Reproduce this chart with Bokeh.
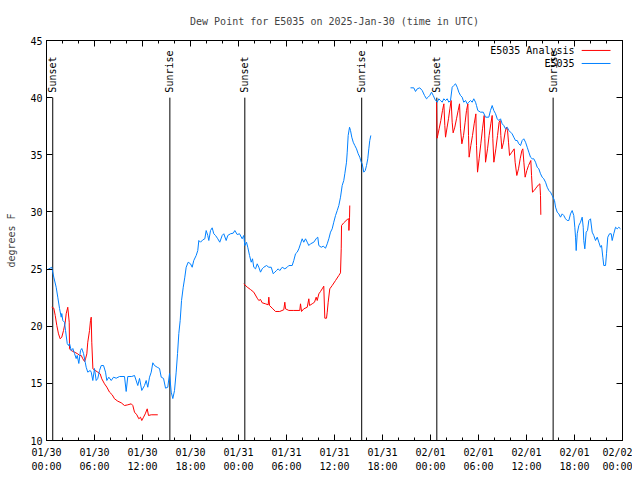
import math
from bokeh.plotting import figure
from bokeh.models import Range1d, FixedTicker, LinearAxis, Label, Arrow
from bokeh.core.properties import value
from bokeh.embed import file_html
from bokeh.resources import INLINE

NaN = float("nan")

# time axis: hours since 2025-01-30 00:00 UTC
tick_hours = [0, 6, 12, 18, 24, 30, 36, 42, 48, 54, 60, 66, 72]
tick_labels = ["01/30\n00:00", "01/30\n06:00", "01/30\n12:00", "01/30\n18:00",
               "01/31\n00:00", "01/31\n06:00", "01/31\n12:00", "01/31\n18:00",
               "02/01\n00:00", "02/01\n06:00", "02/01\n12:00", "02/01\n18:00",
               "02/02\n00:00"]
minor_hours = list(range(0, 73, 2))
y_ticks = [10, 15, 20, 25, 30, 35, 40, 45]

# E5035 observed dew point
obs_hours = [
    0.16, 0.66, 0.91, 1.21, 1.41, 1.63, 1.84, 1.91, 2.04, 2.25, 2.38, 2.59, 2.75, 2.88,
    3.09, 3.29, 3.50, 3.71, 3.84, 4.04, 4.25, 4.41, 4.63, 4.84, 4.96, 5.16, 5.46, 5.59,
    5.79, 6.00, 6.21, 6.41, 6.63, 6.84, 7.13, 7.38, 7.54, 7.79, 8.09, 8.38, 8.71, 9.13,
    9.75, 9.96, 10.16, 10.66, 11.00, 11.41, 11.63, 11.91, 12.25, 12.46, 12.66, 12.88,
    13.09, 13.29, 13.50, 13.84, 14.13, 14.34, 14.63, 14.88, 15.16, 15.38, 15.59, 15.79,
    16.00, 16.21, 16.38, 16.54, 16.71, 16.88, 17.09, 17.29, 17.46, 17.71, 18.00, 18.21,
    18.41, 18.71, 18.91, 19.04, 19.25, 19.54, 19.79, 19.96, 20.16, 20.29, 20.50, 20.71,
    20.91, 21.13, 21.41, 21.66, 21.96, 22.16, 22.46, 22.66, 23.00, 23.34, 23.54, 23.84,
    24.13, 24.46, 24.66, 24.79, 25.00, 25.16, 25.38, 25.59, 25.75, 25.91, 26.13, 26.34,
    26.54, 26.75, 26.96, 27.16, 27.50, 27.79, 28.09, 28.34, 28.54, 28.75, 28.96, 29.16,
    29.46, 29.79, 30.09, 30.29, 30.71, 30.91, 31.13, 31.34, 31.54, 31.75, 31.96, 32.16,
    32.38, 32.59, 32.79, 33.00, 33.41, 33.75, 33.91, 34.04, 34.34, 34.59, 34.88, 35.09,
    35.29, 35.50, 35.71, 35.91, 36.13, 36.34, 36.54, 36.75, 36.96, 37.16, 37.29, 37.50,
    37.59, 37.71, 37.88, 38.00, 38.16, 38.34, 38.54, 38.75, 38.96, 39.16, 39.34, 39.46,
    39.66, 39.84, 40.00, 40.16, 40.29, 40.41, 40.54,
    43.00,
    45.50, 45.91, 46.13, 46.34, 46.66, 46.96, 47.25, 47.50, 47.71, 47.91, 48.13, 48.34,
    48.63, 48.84, 49.04, 49.25, 49.46, 49.66, 49.88, 50.09, 50.29, 50.50, 50.71, 50.91,
    51.13, 51.34, 51.54, 51.75, 51.96, 52.16, 52.38, 52.59, 52.79, 53.00, 53.21, 53.41,
    53.63, 53.75, 53.91, 54.25, 54.59, 54.88, 55.29, 55.50, 55.71, 55.91, 56.13, 56.34,
    56.54, 56.75, 56.96, 57.16, 57.38, 57.59, 57.79, 58.00, 58.21, 58.41, 58.63, 58.84,
    59.04, 59.25, 59.46, 59.66, 59.88, 60.09, 60.29, 60.50, 60.71, 60.91, 61.13, 61.34,
    61.54, 61.75, 61.96, 62.16, 62.38, 62.59, 62.79, 63.00, 63.21, 63.50, 63.63, 63.84,
    64.04, 64.25, 64.46, 64.66, 64.88, 65.09, 65.29, 65.50, 65.71, 65.91, 66.04, 66.13,
    66.21, 66.34, 66.54, 66.75, 66.96, 67.09, 67.16, 67.29, 67.46, 67.63, 67.79, 68.00,
    68.21, 68.41, 68.63, 68.84, 69.04, 69.25, 69.38, 69.54, 69.66, 69.88, 70.00, 70.16,
    70.38, 70.59, 70.71, 70.91, 71.13, 71.34, 71.54, 71.75,
]
obs_values = [
    24.96, 25.16, 24.29, 23.41, 22.54, 21.55, 20.79, 21.11, 20.50, 20.35, 19.62, 18.49, 18.31, 18.49,
    17.87, 18.05, 17.61, 17.17, 17.44, 16.74, 17.87, 18.05, 17.61, 16.85, 16.41, 15.98, 16.13, 15.98,
    15.25, 16.30, 15.25, 15.43, 16.13, 16.56, 16.56, 15.98, 15.25, 15.54, 15.25, 15.54, 15.45, 15.60,
    15.60, 14.29, 15.60, 15.60, 15.69, 14.81, 15.43, 14.38, 14.81, 15.25, 14.66, 15.54,
    15.98, 16.80, 16.56, 16.41, 16.30, 15.54, 15.43, 14.58, 14.66, 15.86, 14.23, 13.67,
    14.37, 15.98, 17.61, 19.36, 20.50, 22.25, 23.41, 24.29, 25.16, 25.60, 25.46, 25.16,
    25.75, 26.19, 26.62, 27.50, 27.35, 27.56, 27.65, 28.37, 27.94, 27.50, 28.37, 28.61,
    28.09, 27.94, 27.65, 27.35, 27.94, 28.09, 27.50, 27.94, 28.09, 28.14, 28.37, 28.02,
    28.09, 27.65, 27.94, 27.06, 27.35, 26.91, 26.19, 25.60, 25.90, 25.16, 25.02, 25.46,
    25.16, 24.73, 25.02, 25.16, 25.31, 25.16, 25.16, 24.59, 24.73, 24.87, 25.02, 24.87,
    25.16, 25.02, 25.16, 25.31, 25.31, 25.75, 26.34, 26.48, 26.77, 27.21, 27.65, 27.35,
    27.65, 27.35, 27.06, 27.21, 27.35, 27.70, 27.79, 27.06, 26.91, 27.00, 26.83, 27.21,
    27.65, 28.23, 28.52, 29.10, 29.69, 30.12, 30.56, 31.29, 32.31, 32.75, 33.34, 34.35,
    35.23, 36.69, 37.41, 37.13, 36.54, 36.10, 35.81, 35.52, 35.09, 34.79, 34.35, 34.21,
    33.48, 33.62, 34.06, 34.65, 35.52, 36.25, 36.69,
    NaN,
    40.86, 40.86, 40.54, 40.77, 40.86, 40.63, 40.19, 39.90, 40.04, 40.19, 40.48, 40.19,
    39.75, 39.60, 39.90, 39.75, 39.60, 39.90, 39.75, 39.90, 39.60, 39.75, 40.91, 41.06,
    41.21, 40.91, 40.48, 40.19, 40.04, 39.60, 39.75, 39.46, 39.60, 39.75, 39.60, 39.90,
    39.60, 39.31, 38.88, 38.73, 38.73, 38.29, 38.29, 38.88, 39.31, 38.88, 38.59, 38.15,
    38.00, 38.15, 37.71, 37.56, 37.27, 37.41, 37.13, 36.98, 36.83, 36.54, 36.25, 36.25,
    35.96, 35.81, 36.25, 36.40, 36.10, 35.66, 35.23, 34.79, 34.65, 34.65, 34.35, 33.91,
    33.77, 33.34, 33.04, 32.90, 32.60, 32.16, 31.88, 31.73, 31.44, 31.00, 30.42, 29.98,
    29.83, 29.54, 29.83, 29.69, 29.40, 29.25, 29.25, 29.83, 30.12, 29.69, 28.66, 27.79,
    26.62, 28.09, 28.81, 29.10, 29.54, 28.66, 27.50, 26.77, 28.23, 28.38, 29.25, 29.40,
    28.23, 27.94, 27.50, 27.79, 27.35, 26.91, 27.06, 26.04, 25.31, 25.31, 26.34, 27.79,
    28.09, 28.09, 27.50, 28.09, 28.66, 28.52, 28.66, 28.52,
]

# E5035 Analysis
ana_hours = [
    0.66, 0.91, 1.09, 1.29, 1.50, 1.71, 1.91, 2.13, 2.34, 2.46, 2.66, 2.84, 2.88, 3.09,
    3.50, 3.91, 4.13, 4.34, 4.54, 4.75, 4.88, 5.04, 5.16, 5.38, 5.50, 5.59, 5.66, 5.80,
    6.09, 6.41, 6.71, 6.91, 7.25, 7.54, 7.88, 8.21, 8.50, 8.91, 9.34, 9.75, 10.16, 10.59,
    10.79, 11.00, 11.29, 11.54, 11.75, 11.91, 12.13, 12.34, 12.59, 12.75, 13.09, 13.91,
    19.00,
    24.66, 25.09, 25.50, 25.91, 26.34, 26.54, 26.75, 26.96, 27.38, 27.71, 27.79, 27.88,
    28.21, 28.63, 29.16, 29.66, 29.79, 29.88, 30.29, 30.91, 31.66, 31.75, 31.88, 32.16,
    32.59, 32.79, 32.88, 33.21, 33.50, 33.71, 33.84, 34.04, 34.25, 34.46, 34.66, 34.79,
    35.00, 35.09, 35.21, 35.41, 35.71, 36.13, 36.54, 36.75, 36.84, 36.88, 37.16, 37.59,
    37.79, 37.80, 37.88, 37.91,
    43.00,
    48.75, 48.79, 48.83, 49.08, 49.29, 49.50, 49.67, 49.79, 49.88, 50.08, 50.25, 50.42,
    50.58, 50.71, 50.83, 51.04, 51.25, 51.46, 51.63, 51.75, 51.92, 52.13, 52.33, 52.50,
    52.67, 52.75, 52.83, 53.04, 53.25, 53.46, 53.67, 53.75, 53.88, 54.08, 54.29, 54.50,
    54.71, 54.79, 54.88, 55.13, 55.33, 55.54, 55.71, 55.79, 55.92, 56.17, 56.38, 56.58,
    56.71, 56.79, 56.92, 57.13, 57.33, 57.50, 57.63, 57.75, 57.88, 58.17, 58.46, 58.58,
    58.79, 59.00, 59.21, 59.42, 59.54, 59.67, 59.83, 60.04, 60.25, 60.54, 60.63, 60.75,
    60.96, 61.17, 61.50, 61.67, 61.75, 61.79,
]
ana_values = [
    21.66, 21.58, 20.94, 20.06, 19.33, 18.90, 19.04, 19.63, 20.35, 21.09, 21.66, 20.35, 18.02, 17.87,
    17.73, 17.58, 17.44, 17.44, 17.15, 16.91, 17.15, 17.58, 18.60, 19.63, 20.50, 20.79, 18.60, 16.27,
    16.13, 15.98, 15.83, 15.40, 14.96, 14.67, 14.23, 14.00, 13.65, 13.44, 13.30, 13.06, 13.12, 13.21,
    13.06, 12.48, 12.25, 11.90, 12.04, 11.75, 12.04, 12.33, 12.77, 12.19, 12.25, 12.25,
    NaN,
    23.71, 23.42, 23.21, 22.98, 22.45, 22.25, 22.34, 22.05, 21.96, 21.87, 22.54, 21.81,
    21.58, 21.29, 21.29, 21.44, 22.10, 21.52, 21.38, 21.38, 21.38, 21.96, 21.29, 21.52,
    21.66, 22.40, 21.81, 21.96, 22.10, 22.54, 22.25, 22.83, 23.04, 23.27, 23.50, 20.70,
    20.70, 21.23, 22.10, 23.27, 23.56, 24.00, 24.44, 24.67, 26.77, 28.81, 29.05, 29.34,
    29.40, 28.38, 29.54, 30.56,
    NaN,
    39.60, 38.00, 36.45, 37.27, 38.00, 38.88, 39.46, 37.56, 36.54, 37.42, 38.15, 39.02,
    39.75, 37.85, 36.92, 37.42, 38.15, 38.88, 39.46, 37.27, 35.96, 36.69, 37.85, 38.88,
    39.46, 36.69, 34.79, 35.81, 36.69, 37.71, 38.58, 35.81, 33.48, 34.65, 35.96, 37.27,
    38.44, 36.40, 34.35, 35.52, 36.69, 37.71, 38.44, 36.40, 34.35, 35.52, 36.69, 37.85,
    38.00, 36.69, 35.52, 36.10, 36.98, 37.42, 37.13, 36.10, 34.94, 35.23, 35.52, 34.35,
    33.19, 33.77, 34.65, 35.37, 35.52, 34.35, 33.04, 33.62, 34.06, 34.50, 33.19, 31.73,
    31.87, 32.08, 32.37, 32.46, 31.44, 29.75,
]

# sunrise / sunset markers
event_hours = [0.78, 15.42, 24.79, 39.40, 48.79, 63.33]
event_labels = ["Sunset", "Sunrise", "Sunset", "Sunrise", "Sunset", "Sunrise"]

series_names = ["E5035 Analysis", "E5035"]

FONT = "DejaVu Sans Mono"
FS = "10px"
RED = "#ff0000"
BLUE = "#0080ff"

p = figure(width=632, height=476, output_backend="svg", toolbar_location=None,
           x_range=Range1d(0, 72), y_range=Range1d(10, 45),
           min_border_left=46, min_border_right=10, min_border_top=40, min_border_bottom=36,
           title="Dew Point for E5035 on 2025-Jan-30 (time in UTC)")
p.title.text_font = FONT
p.title.text_font_size = FS
p.title.text_font_style = "normal"
p.title.align = "center"
p.title.standoff = 27
p.xgrid.visible = False
p.ygrid.visible = False
p.outline_line_color = "black"
p.background_fill_color = "white"
p.border_fill_color = "white"

xt = FixedTicker(ticks=tick_hours, minor_ticks=minor_hours)
yt = FixedTicker(ticks=y_ticks, minor_ticks=[])

def style(ax, labels=True):
    ax.axis_line_color = "black"
    ax.major_tick_line_color = "black"
    ax.minor_tick_line_color = "black"
    ax.major_tick_in = 6
    ax.major_tick_out = 0
    ax.minor_tick_in = 3
    ax.minor_tick_out = 0
    ax.major_label_text_font = FONT
    if labels:
        ax.major_label_text_font_size = FS
        ax.major_label_text_color = "black"
        ax.major_label_standoff = 5
    else:
        # mirrored ticks only: labels are not painted
        ax.major_label_text_font_size = "1px"
        ax.major_label_text_color = None
        ax.major_label_standoff = 0

xa = p.xaxis[0]
xa.ticker = xt
xa.major_label_overrides = {t: l for t, l in zip(tick_hours, tick_labels)}
style(xa)
xa.major_label_standoff = 6
xa.major_label_text_line_height = 1.35

ya = p.yaxis[0]
ya.ticker = yt
style(ya)
ya.major_label_standoff = 4
ya.axis_label = "degrees F"
ya.axis_label_text_font = FONT
ya.axis_label_text_font_size = FS
ya.axis_label_text_font_style = "normal"
ya.axis_label_standoff = 10

top = LinearAxis(ticker=xt)
style(top, labels=False)
p.add_layout(top, "above")
right = LinearAxis(ticker=yt)
style(right, labels=False)
p.add_layout(right, "right")

# event markers
p.segment(x0=event_hours, y0=[10] * len(event_hours), x1=event_hours, y1=[40] * len(event_hours),
          line_color="black", line_width=1)
p.text(x=event_hours, y=[40] * len(event_hours), text=event_labels, angle=math.pi / 2,
       text_font=value(FONT), text_font_size=FS, text_align="left", text_baseline="middle",
       y_offset=-5, text_color="black")

# series
p.line(ana_hours, ana_values, line_color=RED, line_width=1)
p.line(obs_hours, obs_values, line_color=BLUE, line_width=1)

# legend in gnuplot style (text then sample)
for i, (name, col) in enumerate(zip(series_names, [RED, BLUE])):
    yy = 44.13 - i * 1.14
    p.add_layout(Label(x=66.0, y=yy, text=name, text_align="right", text_baseline="middle",
                       text_font=FONT, text_font_size=FS, text_color="black"))
    p.add_layout(Arrow(end=None, x_start=66.9, y_start=yy, x_end=70.5, y_end=yy,
                       line_color=col, line_width=1))

open("out.html", "w").write(file_html(p, INLINE))
